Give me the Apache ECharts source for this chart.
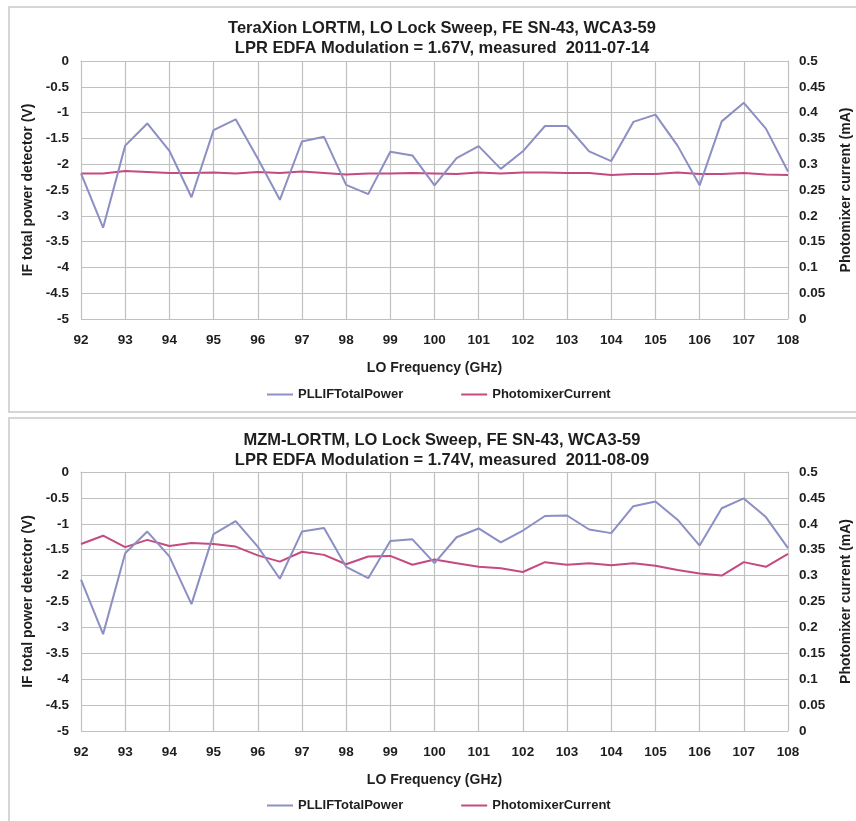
<!DOCTYPE html>
<html>
<head>
<meta charset="utf-8">
<script src="https://cdn.jsdelivr.net/npm/echarts@6/dist/echarts.min.js"></script>
<style>
html, body { margin: 0; padding: 0; background: #fff; }
#chart { width: 856px; height: 821px; }
</style>
</head>
<body>
<div id="chart"></div>
<script>
// LO frequency sweep points (GHz)
const freqs = [92, 92.5, 93, 93.5, 94, 94.5, 95, 95.5, 96, 96.5, 97, 97.5, 98, 98.5, 99, 99.5,
  100, 100.5, 101, 101.5, 102, 102.5, 103, 103.5, 104, 104.5, 105, 105.5, 106, 106.5, 107, 107.5, 108];

// TeraXion LORTM sweep, 2011-07-14
const teraxionIFPower = [-2.18, -3.23, -1.64, -1.21, -1.74, -2.64, -1.34, -1.13, -1.89, -2.69, -1.56, -1.47, -2.40, -2.58, -1.76, -1.83,
  -2.41, -1.88, -1.65, -2.09, -1.75, -1.26, -1.26, -1.75, -1.94, -1.18, -1.04, -1.64, -2.41, -1.17, -0.81, -1.31, -2.14];
const teraxionPMCurrent = [0.282, 0.282, 0.287, 0.285, 0.283, 0.283, 0.284, 0.282, 0.285, 0.283, 0.286, 0.283, 0.280, 0.282, 0.282, 0.283,
  0.282, 0.281, 0.284, 0.282, 0.284, 0.284, 0.283, 0.283, 0.279, 0.281, 0.281, 0.284, 0.281, 0.281, 0.283, 0.280, 0.279];

// MZM-LORTM sweep, 2011-08-09
const mzmIFPower = [-2.08, -3.13, -1.57, -1.15, -1.63, -2.55, -1.20, -0.95, -1.44, -2.06, -1.15, -1.08, -1.83, -2.05, -1.33, -1.30,
  -1.76, -1.26, -1.09, -1.36, -1.13, -0.85, -0.84, -1.11, -1.18, -0.66, -0.57, -0.92, -1.42, -0.70, -0.51, -0.87, -1.47];
const mzmPMCurrent = [0.361, 0.377, 0.355, 0.369, 0.357, 0.363, 0.361, 0.356, 0.339, 0.327, 0.346, 0.340, 0.322, 0.337, 0.338, 0.321,
  0.331, 0.324, 0.317, 0.314, 0.307, 0.326, 0.321, 0.324, 0.320, 0.324, 0.319, 0.311, 0.304, 0.300, 0.326, 0.317, 0.342];

const titles = [
  'TeraXion LORTM, LO Lock Sweep, FE SN-43, WCA3-59\nLPR EDFA Modulation = 1.67V, measured  2011-07-14',
  'MZM-LORTM, LO Lock Sweep, FE SN-43, WCA3-59\nLPR EDFA Modulation = 1.74V, measured  2011-08-09'
];
const xName = 'LO Frequency (GHz)';
const leftName = 'IF total power detector (V)';
const rightName = 'Photomixer current (mA)';
const seriesNames = ['PLLIFTotalPower', 'PhotomixerCurrent'];

const FONT = '"Liberation Sans", Arial, sans-serif';
const BLUE = '#8c8fc3';
const PINK = '#c54a80';
const GRID = '#c0c0c0';
const TEXT = '#1e1e1e';

const pairs = (ys) => freqs.map((f, i) => [f, ys[i]]);

const grids = [
  { left: 81, right: 68, top: 61, height: 258, outerBoundsMode: 'none', containLabel: false },
  { left: 81, right: 68, top: 472, height: 259, outerBoundsMode: 'none', containLabel: false }
];

const labelStyle = { fontFamily: FONT, fontWeight: 'bold', fontSize: 13.5, color: TEXT };
const nameStyle = { fontFamily: FONT, fontWeight: 'bold', fontSize: 14, color: TEXT };

const xAxes = grids.map((g, i) => ({
  type: 'value', gridIndex: i, min: 92, max: 108, interval: 1,
  name: xName, nameLocation: 'middle', nameGap: 42,
  nameTextStyle: nameStyle,
  axisLine: { show: true, lineStyle: { color: GRID } },
  axisTick: { show: false },
  axisLabel: Object.assign({ margin: 14 }, labelStyle),
  splitLine: { show: true, lineStyle: { color: GRID, width: 1.2 } }
}));

const yAxes = [];
grids.forEach((g, i) => {
  yAxes.push({
    type: 'value', gridIndex: i, min: -5, max: 0, interval: 0.5, position: 'left',
    name: leftName, nameLocation: 'middle', nameGap: 46,
    nameTextStyle: nameStyle,
    axisLine: { show: true, lineStyle: { color: GRID } },
    axisTick: { show: false },
    axisLabel: Object.assign({ margin: 12 }, labelStyle),
    splitLine: { show: true, lineStyle: { color: GRID, width: 1.2 } }
  });
  yAxes.push({
    type: 'value', gridIndex: i, min: 0, max: 0.5, interval: 0.05, position: 'right',
    name: rightName, nameLocation: 'middle', nameGap: 51,
    nameTextStyle: nameStyle,
    axisLine: { show: true, lineStyle: { color: GRID } },
    axisTick: { show: false },
    axisLabel: Object.assign({ margin: 11 }, labelStyle),
    splitLine: { show: false }
  });
});

const lineSeries = (name, data, xi, yi, color) => ({
  type: 'line', name, data, xAxisIndex: xi, yAxisIndex: yi,
  showSymbol: false, symbol: 'none', lineStyle: { color, width: 2 }, itemStyle: { color },
  animation: false, z: name === seriesNames[0] ? 3 : 2
});

const legendStyle = (top) => ({
  top, left: 262, itemWidth: 26, itemHeight: 10, itemGap: 58,
  icon: 'path://M0,4 L26,4 L26,6 L0,6 Z',
  textStyle: { fontFamily: FONT, fontWeight: 'bold', fontSize: 13, color: TEXT },
  data: seriesNames
});

const titleStyle = { fontFamily: FONT, fontWeight: 'bold', fontSize: 16.5, lineHeight: 20, color: TEXT };

const chart = echarts.init(document.getElementById('chart'), null, { renderer: 'canvas' });
chart.setOption({
  backgroundColor: '#fff',
  animation: false,
  title: [
    { text: titles[0], left: 437, top: 13, textAlign: 'center', textStyle: titleStyle },
    { text: titles[1], left: 437, top: 425, textAlign: 'center', textStyle: titleStyle }
  ],
  legend: [legendStyle(383), legendStyle(794)],
  grid: grids,
  xAxis: xAxes,
  yAxis: yAxes,
  series: [
    lineSeries(seriesNames[1], pairs(teraxionPMCurrent), 0, 1, PINK),
    lineSeries(seriesNames[0], pairs(teraxionIFPower), 0, 0, BLUE),
    lineSeries(seriesNames[1], pairs(mzmPMCurrent), 1, 3, PINK),
    lineSeries(seriesNames[0], pairs(mzmIFPower), 1, 2, BLUE)
  ],
  graphic: [
    { type: 'rect', shape: { x: 9, y: 7, width: 860, height: 405 },
      style: { fill: 'none', stroke: '#d6d6d6', lineWidth: 2 }, silent: true },
    { type: 'rect', shape: { x: 9, y: 418, width: 860, height: 420 },
      style: { fill: 'none', stroke: '#d6d6d6', lineWidth: 2 }, silent: true }
  ]
});
</script>
</body>
</html>
